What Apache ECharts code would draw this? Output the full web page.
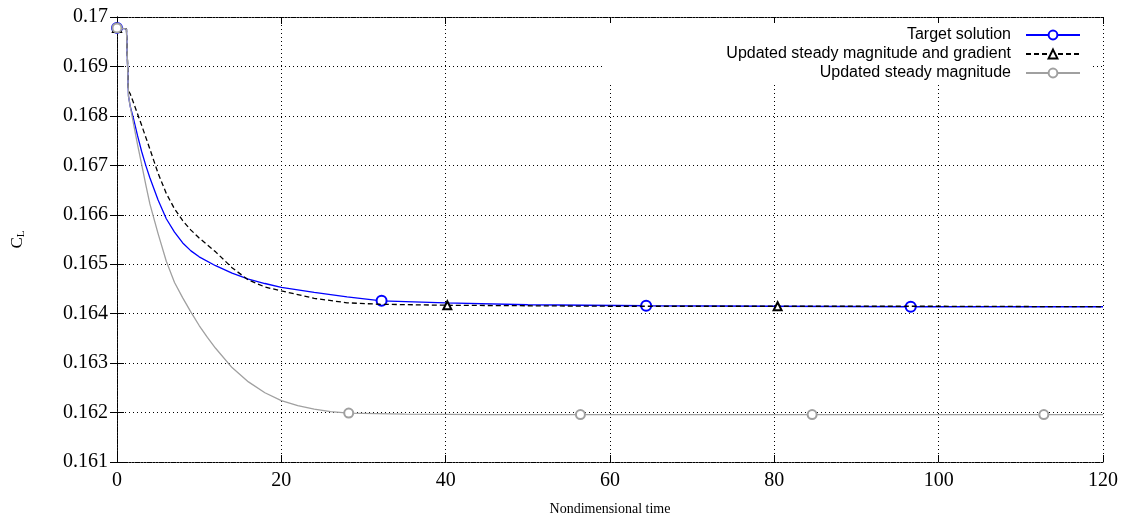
<!DOCTYPE html>
<html>
<head>
<meta charset="utf-8">
<script src="https://cdn.jsdelivr.net/npm/echarts@6/dist/echarts.min.js"></script>
<style>
  html, body { margin: 0; padding: 0; background: #fff; }
  #chart { width: 1128px; height: 521px; }
</style>
</head>
<body>
<div id="chart"></div>
<script>
// 数据
var xTicks = [0, 20, 40, 60, 80, 100, 120];
var yTicks = [0.161, 0.162, 0.163, 0.164, 0.165, 0.166, 0.167, 0.168, 0.169, 0.17];

// Target solution
var targetT = [0, 1.15, 1.4, 1.6, 2, 2.5, 3, 3.5, 4, 5, 6, 7, 8, 9, 10, 12, 14, 16, 18, 20, 24, 28, 32.2, 40, 50, 64.4, 80, 96.6, 120];
var targetY = [0.16978, 0.16976, 0.16840, 0.16820, 0.16795, 0.16760, 0.16728, 0.16700, 0.16675, 0.16630, 0.16592, 0.16565, 0.16543, 0.16527, 0.16515, 0.16497, 0.16482, 0.16470, 0.16461, 0.16453, 0.16443, 0.16434, 0.16426, 0.16422, 0.16418, 0.16416, 0.16415, 0.16414, 0.16414];
var targetMarks = [0, 32.2, 64.4, 96.6];

// Updated steady magnitude and gradient
var gradT = [0, 1.15, 1.4, 1.6, 2, 3, 4, 5, 6, 7, 8, 9, 10, 12, 14, 16, 18, 20, 24, 28, 32, 40.2, 50, 60, 80.4, 100, 120];
var gradY = [0.16978, 0.16976, 0.16850, 0.16845, 0.16827, 0.16781, 0.16733, 0.16684, 0.16643, 0.16612, 0.16588, 0.16569, 0.16553, 0.16525, 0.16493, 0.16468, 0.16454, 0.16446, 0.16431, 0.16422, 0.16419, 0.16417, 0.16416, 0.16415, 0.16415, 0.16415, 0.16414];
var gradMarks = [0, 40.2, 80.4];

// Updated steady magnitude
var magT = [0, 1.15, 1.4, 1.6, 2, 2.5, 3, 3.5, 4, 5, 6, 7, 8, 9, 10, 11, 12, 14, 16, 18, 20, 22, 24, 26, 28.2, 35, 45, 56.4, 84.6, 112.8, 120];
var magY = [0.16978, 0.16976, 0.16840, 0.16820, 0.16785, 0.16742, 0.16702, 0.16661, 0.16622, 0.16562, 0.16506, 0.16463, 0.16432, 0.16403, 0.16376, 0.16352, 0.16330, 0.16291, 0.16262, 0.16240, 0.16224, 0.16214, 0.16207, 0.16202, 0.16199, 0.16197, 0.16196, 0.16196, 0.16196, 0.16196, 0.16196];
var magMarks = [0, 28.2, 56.4, 84.6, 112.8];

// 把标记点放进曲线数据
function build(ts, ys, marks) {
  return ts.map(function (t, i) {
    var item = { value: [t, ys[i]] };
    if (marks.indexOf(t) < 0) item.symbol = 'none';
    return item;
  });
}

(function () {
  var chart = echarts.init(document.getElementById('chart'));
  var serif = '"Liberation Serif", "DejaVu Serif", serif';
  var sans = '"Liberation Sans", Arial, sans-serif';
  var gridLine = { color: '#000', width: 1, type: [1, 3] };
  var frameLine = { color: '#000', width: 1, type: [2, 1] };

  var option = {
    animation: false,
    backgroundColor: '#fff',
    grid: { left: 117, right: 25, top: 17, bottom: 58 },
    legend: {
      orient: 'vertical',
      align: 'right',
      right: 36,
      top: 23,
      padding: [4, 11, 2, 124],
      backgroundColor: '#fff',
      itemWidth: 54,
      itemHeight: 11,
      itemGap: 3,
      selectedMode: false,
      textStyle: { fontFamily: sans, fontSize: 16, color: '#000', padding: [0, 10, 0, 0] },
      data: ['Target solution', 'Updated steady magnitude and gradient', 'Updated steady magnitude']
    },
    xAxis: [
      {
        type: 'value',
        min: xTicks[0],
        max: xTicks[xTicks.length - 1],
        interval: 20,
        name: 'Nondimensional time',
        nameLocation: 'middle',
        nameGap: 40,
        nameTextStyle: { fontFamily: serif, fontSize: 14, color: '#000' },
        axisLine: { lineStyle: frameLine },
        axisTick: { inside: true, length: 7, lineStyle: { color: '#000' } },
        axisLabel: { fontFamily: serif, fontSize: 20, color: '#000', margin: 9 },
        splitLine: { show: true, lineStyle: gridLine }
      },
      {
        type: 'value',
        position: 'top',
        min: xTicks[0],
        max: xTicks[xTicks.length - 1],
        interval: 20,
        axisLine: { show: true, lineStyle: frameLine },
        axisTick: { show: true, inside: true, length: 7, lineStyle: { color: '#000' } },
        axisLabel: { show: false },
        splitLine: { show: false }
      }
    ],
    yAxis: [
      {
        type: 'value',
        min: yTicks[0],
        max: yTicks[yTicks.length - 1],
        interval: 0.001,
        name: '{c|C}{l|L}',
        nameLocation: 'middle',
        nameGap: 90,
        nameRotate: 90,
        nameTextStyle: {
          rich: {
            c: { fontFamily: serif, fontSize: 17, color: '#000' },
            l: { fontFamily: serif, fontSize: 11, color: '#000', padding: [8, 0, 0, 0] }
          }
        },
        axisLine: { show: true, lineStyle: frameLine },
        axisTick: { inside: true, length: 7, lineStyle: { color: '#000' } },
        axisLabel: {
          fontFamily: serif, fontSize: 20, color: '#000', margin: 9,
          formatter: function (v) { return String(parseFloat(v.toFixed(3))); }
        },
        splitLine: { show: true, lineStyle: gridLine }
      },
      {
        type: 'value',
        position: 'right',
        min: yTicks[0],
        max: yTicks[yTicks.length - 1],
        interval: 0.001,
        axisLine: { show: true, lineStyle: frameLine },
        axisTick: { show: true, inside: true, length: 7, lineStyle: { color: '#000' } },
        axisLabel: { show: false },
        splitLine: { show: false }
      }
    ],
    series: [
      {
        name: 'Target solution',
        type: 'line',
        symbol: 'emptyCircle',
        symbolSize: 10,
        showAllSymbol: true,
        color: '#0000ff',
        lineStyle: { color: '#0000ff', width: 1.3 },
        itemStyle: { color: '#0000ff', borderWidth: 1.1 },
        data: build(targetT, targetY, targetMarks),
        z: 2
      },
      {
        name: 'Updated steady magnitude and gradient',
        type: 'line',
        symbol: 'emptyTriangle',
        symbolSize: 8,
        showAllSymbol: true,
        color: '#000',
        lineStyle: { color: '#000', width: 1.3, type: [5, 3] },
        itemStyle: { color: '#000', borderWidth: 1.2 },
        data: build(gradT, gradY, gradMarks),
        z: 3
      },
      {
        name: 'Updated steady magnitude',
        type: 'line',
        symbol: 'emptyCircle',
        symbolSize: 9,
        showAllSymbol: true,
        color: '#a0a0a0',
        lineStyle: { color: '#a0a0a0', width: 1.3 },
        itemStyle: { color: '#a0a0a0', borderWidth: 1.1 },
        data: build(magT, magY, magMarks),
        z: 4
      }
    ]
  };

  chart.setOption(option);
  window.addEventListener('resize', function () {
    chart.resize();
  });
})();
</script>
</body>
</html>
